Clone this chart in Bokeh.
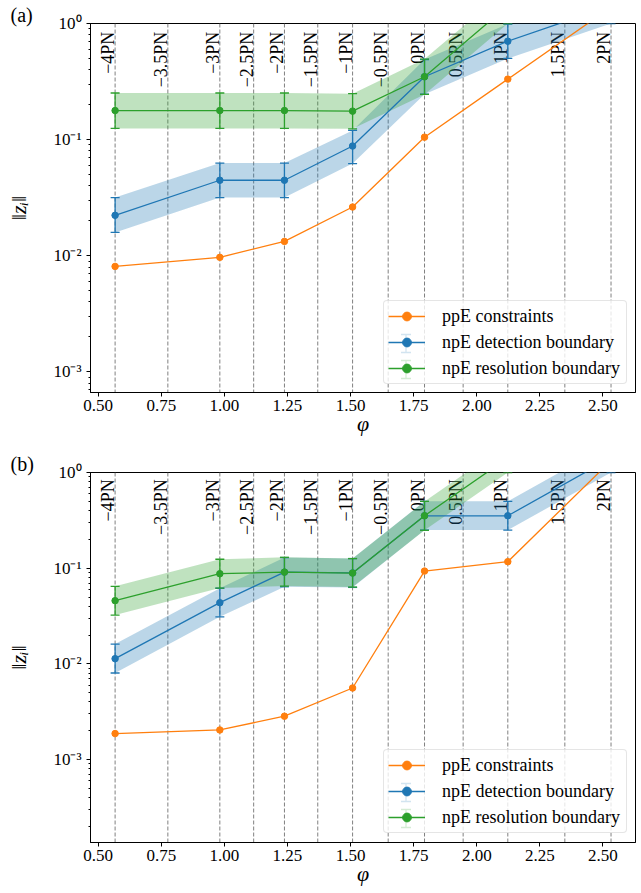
import math
from bokeh.plotting import figure
from bokeh.models import (Range1d, Span, Legend, LegendItem, Arrow, TeeHead, Title,
                          SingleIntervalTicker, NumeralTickFormatter, CustomJSTickFormatter)
from bokeh.layouts import column
from bokeh.core.properties import value
from bokeh.embed import file_html
from bokeh.resources import INLINE

# ---------------- data ----------------
pn_labels = ["−4PN", "−3.5PN", "−3PN", "−2.5PN", "−2PN", "−1.5PN", "−1PN",
             "−0.5PN", "0PN", "0.5PN", "1PN", "1.5PN", "2PN"]
pn_phi = [0.567, 0.776, 0.982, 1.116, 1.238, 1.370, 1.508,
          1.649, 1.793, 1.946, 2.123, 2.349, 2.532]

# points at integer PN orders (-4 ... 2)
phi = [0.567, 0.982, 1.238, 1.508, 1.793, 2.123, 2.532]

# panel (a)
a_ppe = [0.0081, 0.0097, 0.0133, 0.0263, 0.105, 0.332, 1.38]
a_det = [0.0223, 0.0447, 0.0447, 0.0881, 0.348, 0.704, 1.42]
a_det_lo = [0.0159, 0.0317, 0.0317, 0.0622, 0.246, 0.500, 1.0]
a_det_hi = [0.0317, 0.0629, 0.0629, 0.120, 0.490, 0.990, 2.0]
a_res = [0.178, 0.178, 0.178, 0.176, 0.348, 1.42]
a_res_lo = [0.125, 0.125, 0.125, 0.124, 0.245, 1.0]
a_res_hi = [0.252, 0.252, 0.252, 0.249, 0.494, 2.0]

# panel (b)
b_ppe = [0.00187, 0.00204, 0.00284, 0.0056, 0.0933, 0.117, 1.33]
b_det = [0.01135, 0.0436, 0.091, 0.0893, 0.353, 0.353, 1.42]
b_det_lo = [0.00803, 0.0310, 0.064, 0.063, 0.250, 0.250, 1.0]
b_det_hi = [0.0161, 0.0617, 0.129, 0.126, 0.500, 0.500, 2.0]
b_res = [0.0458, 0.0876, 0.091, 0.0889, 0.353, 1.42]
b_res_lo = [0.0324, 0.062, 0.065, 0.0635, 0.249, 1.0]
b_res_hi = [0.0646, 0.124, 0.130, 0.126, 0.498, 2.0]

legend_labels = ["ppE constraints", "npE detection boundary", "npE resolution boundary"]

X_RANGE = (0.4695, 2.629)
A_YRANGE = (6.65e-4, 1.0)
B_YRANGE = (1.36e-4, 1.0)

# ---------------- style / layout ----------------
C_PPE = "#ff7f0e"
C_DET = "#1f77b4"
C_RES = "#2ca02c"
FONT = "Liberation Serif"
W = 637
LEFT = 90
RIGHT = 2
FW = W - LEFT - RIGHT
PN_LABEL_Y = 0.85
LW = 1.3

LEG_VX = 293
LEG_PAD = 4
LEG_GW = 37
LEG_GH = 22
LEG_SP = 4
LEG_H = 3 * LEG_GH + 2 * LEG_SP + 2 * LEG_PAD

SUP = "const sup = {'-':'⁻','0':'⁰','1':'¹','2':'²','3':'³','4':'⁴','5':'⁵','6':'⁶','7':'⁷','8':'⁸','9':'⁹'};"


def make_panel(tag, ppe, det, det_lo, det_hi, res, res_lo, res_hi,
               yrange, height, top, bottom, leg_vy):
    fh = height - top - bottom
    p = figure(width=W, height=height,
               x_range=Range1d(*X_RANGE), y_range=Range1d(*yrange),
               y_axis_type="log", output_backend="svg", toolbar_location=None,
               min_border_left=LEFT, min_border_right=RIGHT,
               min_border_top=top, min_border_bottom=bottom)
    p.background_fill_color = "white"
    p.border_fill_color = "white"
    p.outline_line_color = "black"
    p.outline_line_width = 1
    p.outline_line_alpha = 1
    p.xgrid.grid_line_color = None
    p.ygrid.grid_line_color = None

    # common axis styling (splat)
    p.axis.major_label_text_font = FONT
    p.axis.major_label_text_font_size = "17px"
    p.axis.major_label_text_color = "black"
    p.axis.major_tick_in = 0
    p.axis.major_tick_out = 4
    p.axis.axis_line_color = "black"
    p.axis.major_tick_line_color = "black"
    p.axis.axis_label_text_font = FONT
    p.axis.axis_label_text_color = "black"

    p.xaxis.ticker = SingleIntervalTicker(interval=0.25)
    p.xaxis.formatter = NumeralTickFormatter(format="0.00")
    p.xaxis.minor_tick_line_color = None
    p.xaxis.major_label_standoff = 3
    p.xaxis.axis_label = "φ"
    p.xaxis.axis_label_text_font_size = "22px"
    p.xaxis.axis_label_text_font_style = "italic"
    p.xaxis.axis_label_standoff = -3

    p.yaxis.formatter = CustomJSTickFormatter(code=SUP + """
        const e = Math.round(Math.log10(tick));
        return '10' + String(e).split('').map(c => sup[c]).join('');
    """)
    p.yaxis.minor_tick_in = 0
    p.yaxis.minor_tick_out = 2
    p.yaxis.minor_tick_line_color = "black"
    p.yaxis.major_label_standoff = 5
    p.yaxis.axis_label = "‖zᵢ‖"
    p.yaxis.axis_label_text_font_size = "22px"
    p.yaxis.axis_label_text_font_style = "italic"
    p.yaxis.axis_label_standoff = 19

    # panel tag, as a left-aligned title shifted over the left border
    p.title = Title(text=tag, align="left", offset=-80, standoff=-4,
                    vertical_align="bottom", text_font=FONT,
                    text_font_size="20px", text_font_style="normal",
                    text_color="black")

    # PN reference lines and labels
    for xv in pn_phi:
        p.add_layout(Span(location=xv, dimension="height", line_color="#808080",
                          line_dash="4 2", line_width=1, level="underlay"))
    p.text(x=pn_phi, y=[PN_LABEL_Y] * len(pn_phi), text=pn_labels,
           angle=math.pi / 2, text_align="right", text_baseline="bottom",
           text_font=value(FONT), text_font_size="18px", text_color="black",
           x_offset=3)

    xd = phi[:len(det)]
    xr = phi[:len(res)]

    # bands
    p.varea(x=xd, y1=det_lo, y2=det_hi, fill_color=C_DET, fill_alpha=0.3)
    p.varea(x=xr, y1=res_lo, y2=res_hi, fill_color=C_RES, fill_alpha=0.3)

    # ppE constraints
    l1 = p.line(phi, ppe, line_color=C_PPE, line_width=LW)
    s1 = p.scatter(phi, ppe, size=6.5, fill_color=C_PPE, line_color=C_PPE)

    # detection boundary
    l2 = p.line(xd, det, line_color=C_DET, line_width=LW)
    p.segment(x0=xd, y0=det_lo, x1=xd, y1=det_hi, line_color=C_DET, line_width=LW)
    p.scatter(xd, det_lo, marker="dash", size=9, line_color=C_DET, line_width=LW)
    p.scatter(xd, det_hi, marker="dash", size=9, line_color=C_DET, line_width=LW)
    s2 = p.scatter(xd, det, size=6.5, fill_color=C_DET, line_color=C_DET)

    # resolution boundary
    l3 = p.line(xr, res, line_color=C_RES, line_width=LW)
    p.segment(x0=xr, y0=res_lo, x1=xr, y1=res_hi, line_color=C_RES, line_width=LW)
    p.scatter(xr, res_lo, marker="dash", size=9, line_color=C_RES, line_width=LW)
    p.scatter(xr, res_hi, marker="dash", size=9, line_color=C_RES, line_width=LW)
    s3 = p.scatter(xr, res, size=6.5, fill_color=C_RES, line_color=C_RES)

    leg = Legend(items=[LegendItem(label=legend_labels[0], renderers=[l1, s1]),
                        LegendItem(label=legend_labels[1], renderers=[l2, s2]),
                        LegendItem(label=legend_labels[2], renderers=[l3, s3])],
                 location=(LEG_VX, leg_vy), orientation="vertical",
                 padding=LEG_PAD, spacing=LEG_SP, glyph_width=LEG_GW,
                 glyph_height=LEG_GH, label_height=LEG_GH, label_width=180,
                 label_standoff=17, margin=0,
                 border_line_color="#cccccc", border_line_width=1,
                 background_fill_color="white", background_fill_alpha=0.8,
                 label_text_font=FONT, label_text_font_size="18px",
                 label_text_color="black")
    try:
        leg.border_radius = 4
    except Exception:
        pass
    p.add_layout(leg)

    # error-bar symbols inside the legend
    xs, xe = X_RANGE
    ly0, ly1 = math.log10(yrange[0]), math.log10(yrange[1])

    def to_data(px, py):
        return xs + px / FW * (xe - xs), 10 ** (ly0 + py / fh * (ly1 - ly0))

    cx = LEG_VX + LEG_PAD + LEG_GW / 2
    for i, c in [(1, C_DET), (2, C_RES)]:
        cy = leg_vy + LEG_H - (LEG_PAD + i * (LEG_GH + LEG_SP) + LEG_GH / 2)
        x0, y0 = to_data(cx, cy - 9)
        x1, y1 = to_data(cx, cy + 9)
        p.add_layout(Arrow(x_start=x0, y_start=y0, x_end=x1, y_end=y1,
                           start=TeeHead(size=10, line_color=c, line_width=LW),
                           end=TeeHead(size=10, line_color=c, line_width=LW),
                           line_color=c, line_width=LW, level="overlay"))
    return p


pa = make_panel("(a)", a_ppe, a_det, a_det_lo, a_det_hi, a_res, a_res_lo, a_res_hi,
                A_YRANGE, height=445, top=23, bottom=53, leg_vy=8)
pb = make_panel("(b)", b_ppe, b_det, b_det_lo, b_det_hi, b_res, b_res_lo, b_res_hi,
                B_YRANGE, height=447, top=27, bottom=50, leg_vy=9)

layout = column(pa, pb, spacing=0)
open("out.html", "w").write(file_html(layout, INLINE, title="npE boundaries"))
